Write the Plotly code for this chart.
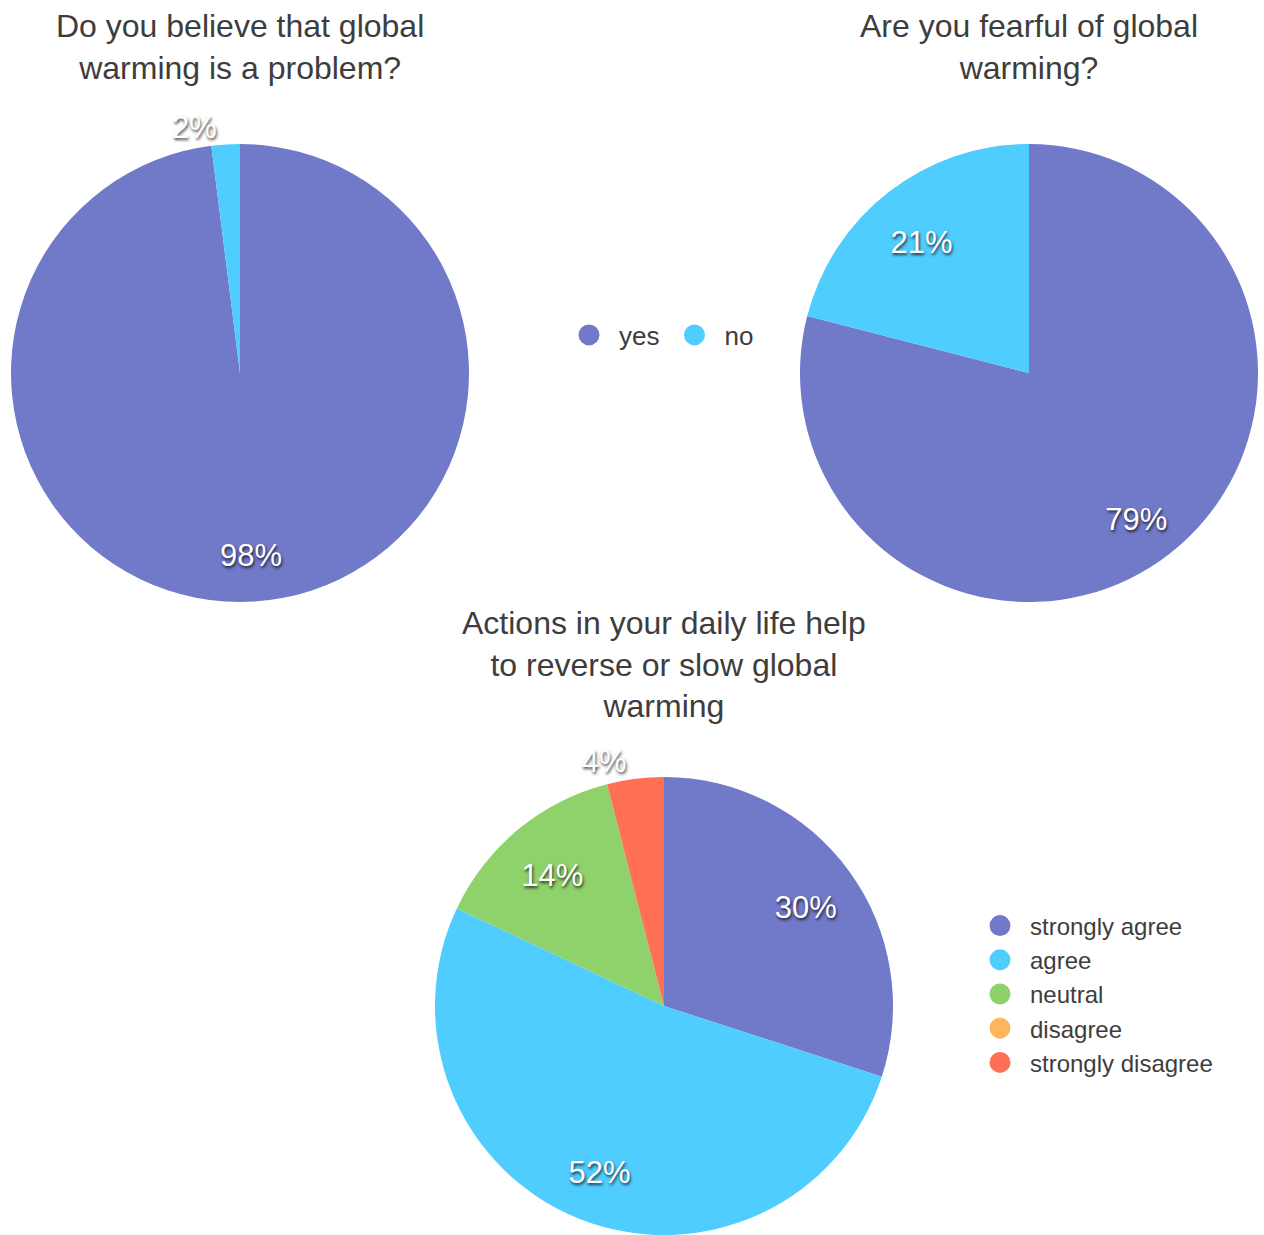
import plotly.graph_objects as go

# ---- data ----
q1_title = "Do you believe that global<br>warming is a problem?"
q1_labels = ["yes", "no"]
q1_values = [98, 2]

q2_title = "Are you fearful of global<br>warming?"
q2_labels = ["yes", "no"]
q2_values = [79, 21]

q3_title = "Actions in your daily life help<br>to reverse or slow global<br>warming"
q3_labels = ["strongly agree", "agree", "neutral", "disagree", "strongly disagree"]
q3_values = [30, 52, 14, 0, 4]

yn_colors = ["#7179c9", "#4fcdff"]
q3_colors = ["#7179c9", "#4fcdff", "#8fd16a", "#ffb55a", "#ff7055"]

FONT = "Liberation Sans, Arial, sans-serif"
TXT = "#3d3d3d"
W, H = 1264, 1235
LABEL_R = 0.765      # inside labels sit at this fraction of the radius
LABEL_DROP = 8       # px: inside labels sit a little lower (baseline feel)

def px_x(a, b):
    return [a / W, b / W]

def px_y(top, bottom):
    return [max(0, 1 - bottom / H), min(1, 1 - top / H)]

def inside_tmpl(values, small=5):
    return ["%{percent:.0%}" if v >= small else "" for v in values]

def outside_tmpl(values, small=5):
    return ["%{percent:.0%}" if 0 < v < small else "" for v in values]

label_font = dict(family=FONT, size=31, color="white",
                  shadow="1px 2px 3px rgba(0,0,0,0.75)")

fig = go.Figure()

# pie boxes in px: left, right, top, bottom
pies = [
    (q1_labels, q1_values, yn_colors, (11, 469, 144, 602)),
    (q2_labels, q2_values, yn_colors, (800, 1258, 144, 602)),
    (q3_labels, q3_values, q3_colors, (435, 893, 777, 1235)),
]
for labels, values, colors, (l, r, t, b) in pies:
    dx, dy = px_x(l, r), px_y(t, b)
    R = (r - l) / 2
    # coloured slices
    fig.add_trace(go.Pie(
        labels=labels, values=values, sort=False, direction="clockwise",
        rotation=0, domain=dict(x=dx, y=dy),
        marker=dict(colors=colors, line=dict(width=0)),
        textinfo="none", showlegend=False, hoverinfo="label+percent",
    ))
    # inside percentage labels: transparent ring, nudged down a little
    t2, b2 = t + LABEL_DROP, min(b + LABEL_DROP, H)
    r2 = min(r - l, b2 - t2) / 2
    hole = max(0.0, 2 * LABEL_R * R / r2 - 1)
    fig.add_trace(go.Pie(
        labels=labels, values=values, sort=False, direction="clockwise",
        rotation=0, domain=dict(x=dx, y=px_y(t2, b2)), hole=hole,
        marker=dict(colors=["rgba(0,0,0,0)"] * len(values), line=dict(width=0)),
        texttemplate=inside_tmpl(values), textposition="inside",
        insidetextorientation="horizontal",
        textfont=label_font, insidetextfont=label_font,
        showlegend=False, hoverinfo="skip",
    ))
    # outside labels for the thin slices
    fig.add_trace(go.Pie(
        labels=labels, values=values, sort=False, direction="clockwise",
        rotation=0, domain=dict(x=dx, y=dy),
        marker=dict(colors=["rgba(0,0,0,0)"] * len(values), line=dict(width=0)),
        texttemplate=outside_tmpl(values), textposition="outside",
        textfont=label_font, outsidetextfont=label_font,
        showlegend=False, hoverinfo="skip",
    ))

# legend entries (circle markers)
for lab, col in zip(q1_labels, yn_colors):
    fig.add_trace(go.Scatter(
        x=[None], y=[None], mode="markers", name=lab, legend="legend",
        marker=dict(symbol="circle", size=16, color=col, line=dict(color=col, width=5)),
    ))
for lab, col in zip(q3_labels, q3_colors):
    fig.add_trace(go.Scatter(
        x=[None], y=[None], mode="markers", name=lab, legend="legend2",
        marker=dict(symbol="circle", size=16, color=col, line=dict(color=col, width=5)),
    ))

title_font = dict(family=FONT, size=32, color=TXT)
annotations = [
    dict(text=q1_title, x=240 / W, y=1 - 47 / H, xref="paper", yref="paper",
         xanchor="center", yanchor="middle", showarrow=False, font=title_font),
    dict(text=q2_title, x=1029 / W, y=1 - 47 / H, xref="paper", yref="paper",
         xanchor="center", yanchor="middle", showarrow=False, font=title_font),
    dict(text=q3_title, x=664 / W, y=1 - 664 / H, xref="paper", yref="paper",
         xanchor="center", yanchor="middle", showarrow=False, font=title_font),
]

fig.update_layout(
    width=W, height=H,
    margin=dict(l=0, r=0, t=0, b=0, autoexpand=False),
    paper_bgcolor="white", plot_bgcolor="white",
    font=dict(family=FONT, color=TXT),
    xaxis=dict(visible=False), yaxis=dict(visible=False),
    annotations=annotations,
    legend=dict(orientation="h", x=659 / W, y=1 - 335 / H, xanchor="center",
                yanchor="middle", font=dict(family=FONT, size=26, color=TXT),
                itemwidth=50, bgcolor="rgba(0,0,0,0)"),
    legend2=dict(orientation="v", x=970 / W, y=1 - 994 / H, xanchor="left",
                 yanchor="middle", font=dict(family=FONT, size=24, color=TXT),
                 itemwidth=50, tracegroupgap=0, bgcolor="rgba(0,0,0,0)"),
)

fig.write_html("out.html", config={"displayModeBar": False},
               post_script="document.body.style.margin='0px';")
